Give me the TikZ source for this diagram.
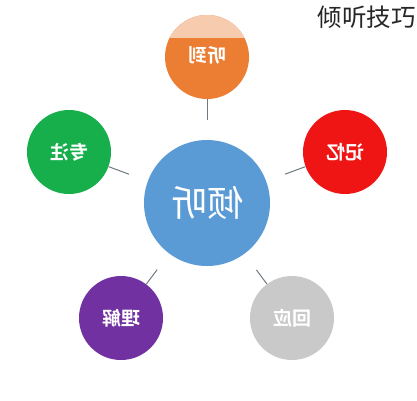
\documentclass[tikz,border=0pt]{standalone}
\usepackage{fontspec}
\usepackage{graphicx}
\newfontfamily\cjk{Noto Sans CJK SC}
\newfontfamily\cjkb{Noto Sans CJK SC Bold}
\definecolor{cblue}{HTML}{5B9BD5}
\definecolor{corange}{HTML}{EC7E33}
\definecolor{cpeach}{HTML}{F6CBAE}
\definecolor{cgreen}{HTML}{17AE4C}
\definecolor{cred}{HTML}{F01515}
\definecolor{cpurple}{HTML}{7131A1}
\definecolor{cgray}{HTML}{C9C9C9}
\definecolor{cline}{HTML}{6E7A80}
\tikzset{
  bubble/.style={circle, inner sep=0pt, minimum size=84pt, text=white, font=\cjkb\fontsize{19}{19}\selectfont},
  hub/.style={circle, inner sep=0pt, minimum size=126pt, fill=cblue, text=white, font=\cjk\fontsize{36}{36}\selectfont},
  link/.style={draw=cline, line width=1pt, shorten >=20pt}
}
\begin{document}
\begin{tikzpicture}[x=1pt,y=-1pt]
\useasboundingbox (0,0) rectangle (417,400);
\fill[white] (0,0) rectangle (417,400);
\node[hub] (c) at (207,203) {\reflectbox{倾听}};
\node[bubble, fill=corange] (t) at (207,57) {};
\begin{scope}
  \clip (207,57) circle (42pt);
  \fill[cpeach] (160,10) rectangle (260,38);
\end{scope}
\node[bubble] (tt) at (207,55) {\reflectbox{听到}};
\node[bubble, fill=cgreen] (l) at (69,152) {\reflectbox{专注}};
\node[bubble, fill=cred] (r) at (345,152) {\reflectbox{记忆}};
\node[bubble, fill=cpurple] (bl) at (121,318) {\reflectbox{理解}};
\node[bubble, fill=cgray] (br) at (292,318) {\reflectbox{回应}};
\node[anchor=north east, inner sep=0pt, font=\cjk\fontsize{24.5}{24.5}\selectfont, text=black!85] (title) at (416,6) {倾听技巧};
\draw[link] (t) -- (c);
\draw[link] (l) -- (c);
\draw[link] (r) -- (c);
\draw[link] (bl) -- (c);
\draw[link] (br) -- (c);
\end{tikzpicture}
\end{document}
